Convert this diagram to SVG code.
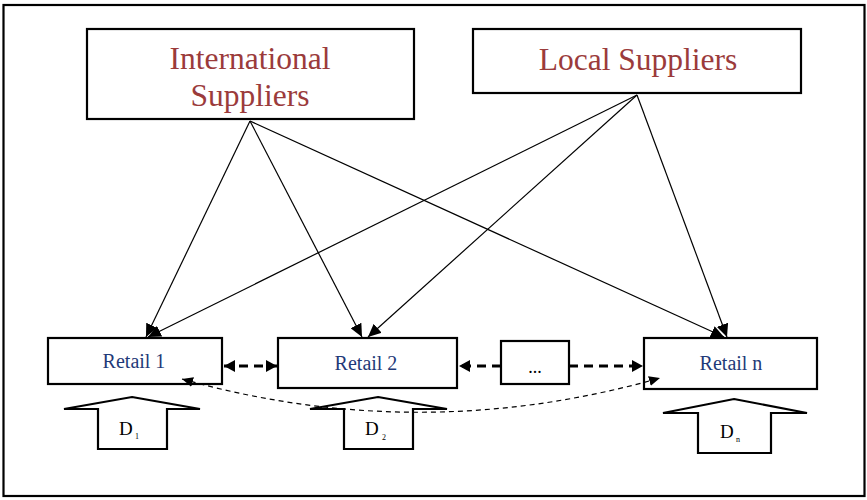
<svg xmlns="http://www.w3.org/2000/svg" width="867" height="500" viewBox="0 0 867 500">
<defs>
<style>
.box{fill:#fff;stroke:#000;stroke-width:2.2}
.sup{font-family:"Liberation Serif","Times New Roman",serif;font-size:31.5px;fill:#9B3B3B;text-anchor:middle}
.ret{font-family:"Liberation Serif","Times New Roman",serif;font-size:20px;fill:#1F3A78;text-anchor:middle}
.d{font-family:"Liberation Serif","Times New Roman",serif;font-size:19px;fill:#000}
.sub{font-family:"Liberation Serif","Times New Roman",serif;font-size:8px;fill:#000}
.dots{font-family:"Liberation Serif","Times New Roman",serif;font-size:18px;fill:#000;text-anchor:middle}
.blk{fill:#fff;stroke:#000;stroke-width:2.2;stroke-linejoin:miter}
.line{stroke:#000;stroke-width:1.2;fill:none}
.thick{stroke:#000;stroke-width:3;fill:none;stroke-dasharray:9,6}
.curve{stroke:#000;stroke-width:1.2;fill:none;stroke-dasharray:5,4}
</style>
<marker id="ah" markerUnits="userSpaceOnUse" markerWidth="14" markerHeight="12" refX="13" refY="6" orient="auto">
<path d="M0,0 L13,6 L0,12 z" fill="#000"/>
</marker>
<marker id="ad" markerUnits="userSpaceOnUse" markerWidth="12" markerHeight="12" refX="11" refY="6" orient="auto-start-reverse">
<path d="M0,0 L11,6 L0,12 z" fill="#000"/>
</marker>
<marker id="ac" markerUnits="userSpaceOnUse" markerWidth="12" markerHeight="10" refX="11" refY="5" orient="auto-start-reverse">
<path d="M0,0 L11,5 L0,10 z" fill="#000"/>
</marker>
</defs>
<rect x="3.5" y="5" width="861" height="491" fill="#fff" stroke="#000" stroke-width="2.2"/>

<g id="international-suppliers">
<rect class="box" x="87" y="29" width="327" height="90"/>
<text class="sup" x="250" y="69">International</text>
<text class="sup" x="250" y="106">Suppliers</text>
</g>
<g id="local-suppliers">
<rect class="box" x="473" y="29" width="328" height="64"/>
<text class="sup" x="638" y="70">Local Suppliers</text>
</g>
<g id="retail-1">
<rect class="box" x="48" y="338" width="174" height="46"/>
<text class="ret" x="134" y="368">Retail 1</text>
</g>
<g id="retail-2">
<rect class="box" x="278" y="338" width="179" height="50"/>
<text class="ret" x="366" y="370">Retail 2</text>
</g>
<g id="ellipsis">
<rect class="box" x="501" y="341" width="68" height="43"/>
<text class="dots" x="535" y="373">...</text>
</g>
<g id="retail-n">
<rect class="box" x="644" y="338" width="173" height="51"/>
<text class="ret" x="731" y="370">Retail n</text>
</g>
<g id="demand-1">
<polygon class="blk" points="132,397 200,409 167,409 167,449 98,449 98,409 64,409"/>
<text class="d" x="119" y="435">D</text><text class="sub" x="135" y="439">1</text>
</g>
<g id="demand-2">
<polygon class="blk" points="378,397 447,409 413,409 413,449 344,449 344,409 310,409"/>
<text class="d" x="365" y="435">D</text><text class="sub" x="382" y="440">2</text>
</g>
<g id="demand-n">
<polygon class="blk" points="734,399 807,413 771,413 771,453 698,453 698,413 663,413"/>
<text class="d" x="720" y="438">D</text><text class="sub" x="736" y="442">n</text>
</g>

<g id="connectors">
<line class="line" x1="250" y1="121" x2="146" y2="337" marker-end="url(#ah)"/>
<line class="line" x1="250" y1="121" x2="362" y2="337" marker-end="url(#ah)"/>
<line class="line" x1="250" y1="121" x2="724" y2="337" marker-end="url(#ah)"/>
<line class="line" x1="637" y1="95" x2="148" y2="337" marker-end="url(#ah)"/>
<line class="line" x1="637" y1="95" x2="368" y2="337" marker-end="url(#ah)"/>
<line class="line" x1="637" y1="95" x2="727" y2="337" marker-end="url(#ah)"/>
<line class="thick" x1="224" y1="366" x2="277" y2="366" marker-start="url(#ad)" marker-end="url(#ad)"/>
<line class="thick" x1="501" y1="366" x2="459" y2="366" marker-end="url(#ad)"/>
<line class="thick" x1="569" y1="366" x2="643" y2="366" marker-end="url(#ad)"/>
<path class="curve" d="M182,379 Q420,446 660,378" marker-start="url(#ac)" marker-end="url(#ac)"/>
</g>
</svg>
